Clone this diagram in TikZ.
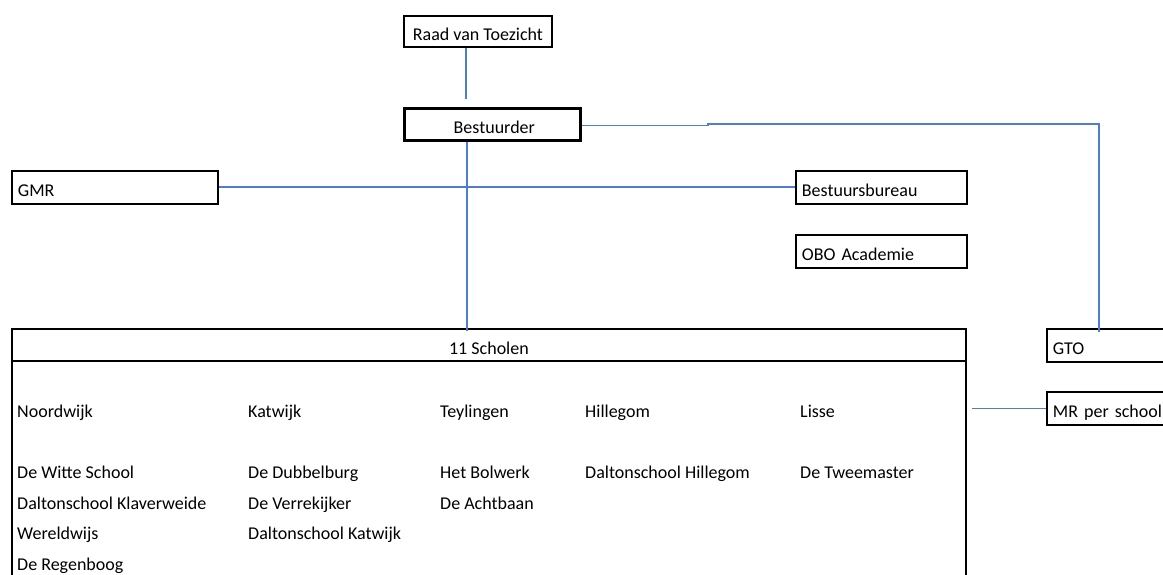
\documentclass[tikz,border=0pt]{standalone}
\usepackage{fontspec}
\setmainfont{Carlito}
\definecolor{conn}{RGB}{80,124,204}
\begin{document}
\begin{tikzpicture}[x=1pt,y=-1pt,
  box/.style={draw=black, line width=1.9pt, inner sep=0pt, anchor=north west, font=\fontsize{18}{21}\selectfont, text height=19pt, text depth=0pt},
  lbox/.style={box, inner xsep=6pt, align=left},
  txt/.style={anchor=west, inner sep=0pt, font=\fontsize{18}{21}\selectfont, text height=12.5pt, text depth=3.5pt},
  link/.style={draw=conn, line width=1.1pt}]
\useasboundingbox (0,0) rectangle (1163,574);
\clip (0,0) rectangle (1163,574);
\fill[white] (0,0) rectangle (1163,574);
% boxes
\node[box, minimum width=148pt, minimum height=31pt] (raad) at (403,15) {Raad van Toezicht};
\node[box, line width=2.6pt, minimum width=176pt, minimum height=32pt] (best) at (403,107) {\hspace*{4pt}Bestuurder};
\node[lbox, text width=194pt, minimum height=33pt] (gmr) at (11,170) {GMR};
\node[lbox, text width=159pt, minimum height=33pt] (bb) at (795,170) {Bestuursbureau};
\node[lbox, text width=159pt, minimum height=33pt] (obo) at (795,234) {OBO Academie};
\node[box, minimum width=954pt, minimum height=32pt] (head) at (11,328) {11 Scholen};
\node[box, minimum width=954pt, minimum height=260pt] (body) at (11,360) {};
\node[lbox, text width=122pt, minimum height=33pt] (gto) at (1046,328) {GTO};
\node[lbox, text width=122pt, minimum height=33pt] (mr) at (1046,391) {MR per school};
% school texts
\node[txt] (c1) at (17,413) {Noordwijk};
\node[txt] (c2) at (248,413) {Katwijk};
\node[txt] (c3) at (440,413) {Teylingen};
\node[txt] (c4) at (585,413) {Hillegom};
\node[txt] (c5) at (800,413) {Lisse};
\node[txt] (s11) at (17,474) {De Witte School};
\node[txt] (s12) at (17,505) {Daltonschool Klaverweide};
\node[txt] (s13) at (17,535) {Wereldwijs};
\node[txt] (s14) at (17,566) {De Regenboog};
\node[txt] (s21) at (248,474) {De Dubbelburg};
\node[txt] (s22) at (248,505) {De Verrekijker};
\node[txt] (s23) at (248,535) {Daltonschool Katwijk};
\node[txt] (s31) at (440,474) {Het Bolwerk};
\node[txt] (s32) at (440,505) {De Achtbaan};
\node[txt] (s41) at (585,474) {Daltonschool Hillegom};
\node[txt] (s51) at (800,474) {De Tweemaster};
% connectors
\draw[link] ([xshift=63pt]raad.south west) -- ([xshift=63pt,yshift=8pt]best.north west);
\draw[link] ([xshift=64pt]best.south west) -- ([xshift=456pt,yshift=-3pt]head.north west);
\draw[link] ([yshift=0.5pt]gmr.east) -- ([yshift=0.5pt]bb.west);
\coordinate (jog) at (708,125.5);
\coordinate (corner) at (1099,124);
\draw[link] (best.east |- jog) -- (jog) -- (708,124) -- (corner) -- ([xshift=53pt,yshift=-4pt]gto.north west);
\draw[link] ([xshift=5pt]body.east |- mr.west) -- (mr.west);
\end{tikzpicture}
\end{document}
